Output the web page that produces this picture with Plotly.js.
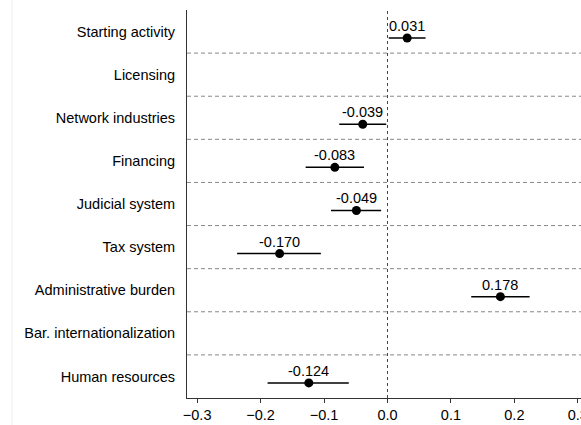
<!DOCTYPE html>
<html>
<head>
<meta charset="utf-8">
<script src="https://cdn.plot.ly/plotly-3.0.1.min.js"></script>
<style>html,body{margin:0;padding:0;background:#fff;}#chart{width:581px;height:425px;}</style>
</head>
<body>
<div id="chart"></div>
<script>
// Data
var categories = ["Starting activity", "Licensing", "Network industries", "Financing",
  "Judicial system", "Tax system", "Administrative burden", "Bar. internationalization", "Human resources"];
var estimates = [0.031, null, -0.039, -0.083, -0.049, -0.170, 0.178, null, -0.124];
var ciLow  = [0.002, null, -0.076, -0.129, -0.089, -0.237, 0.132, null, -0.189];
var ciHigh = [0.060, null, -0.002, -0.037, -0.010, -0.105, 0.224, null, -0.061];
var xTicks = [-0.3, -0.2, -0.1, 0.0, 0.1, 0.2, 0.3];

var pointOffset = 0.15;
var idx = categories.map(function(_, i){ return i; });
var yPts = idx.map(function(i){ return i + pointOffset; });
var plus = estimates.map(function(v, i){ return v === null ? null : ciHigh[i] - v; });
var minus = estimates.map(function(v, i){ return v === null ? null : v - ciLow[i]; });

var font = {family: "Liberation Sans, Arial, sans-serif", size: 14.5, color: "#000"};

var trace = {
  type: "scatter",
  mode: "markers",
  x: estimates,
  y: yPts,
  marker: {color: "#000", size: 9},
  error_x: {type: "data", symmetric: false, array: plus, arrayminus: minus,
            color: "#000", thickness: 1.5, width: 0},
  hoverinfo: "skip",
  showlegend: false,
  cliponaxis: false
};

var annotations = [];
estimates.forEach(function(v, i){
  if (v === null) return;
  annotations.push({x: v, y: yPts[i], xref: "x", yref: "y", text: v.toFixed(3),
    showarrow: false, xanchor: "center", yanchor: "middle", yshift: 12, font: font});
});

var shapes = [];
for (var i = 0; i < categories.length - 1; i++) {
  shapes.push({type: "line", xref: "paper", x0: 0, x1: 1, yref: "y", y0: i + 0.5, y1: i + 0.5,
    line: {color: "#888", width: 1, dash: "4px,3px"}, layer: "below"});
}
shapes.push({type: "line", xref: "x", x0: 0, x1: 0, yref: "paper", y0: 0, y1: 1,
  line: {color: "#444", width: 1, dash: "3px,3px"}, layer: "below"});
// faint figure border at left
shapes.push({type: "line", xref: "paper", x0: -175/394, x1: -175/394, yref: "paper", y0: -0.07, y1: 1.03,
  line: {color: "#eeeeee", width: 1}});

var layout = {
  width: 581, height: 425,
  margin: {l: 187, r: 0, t: 10, b: 27, pad: 0},
  paper_bgcolor: "#fff", plot_bgcolor: "#fff",
  font: font,
  xaxis: {
    range: [-0.316, 0.305],
    tickvals: xTicks,
    tickformat: ".1f",
    ticks: "outside", ticklen: 4, tickcolor: "#333", tickwidth: 1,
    ticklabeloverflow: "allow",
    showline: true, linecolor: "#333", linewidth: 1,
    showgrid: false, zeroline: false,
    tickfont: font
  },
  yaxis: {
    range: [categories.length - 0.5, -0.5],
    tickvals: idx,
    ticktext: categories,
    ticks: "", ticklabelstandoff: 8,
    showline: true, linecolor: "#333", linewidth: 1,
    showgrid: false, zeroline: false,
    tickfont: font
  },
  shapes: shapes,
  annotations: annotations
};

Plotly.newPlot("chart", [trace], layout, {displayModeBar: false, staticPlot: true});
</script>
</body>
</html>
